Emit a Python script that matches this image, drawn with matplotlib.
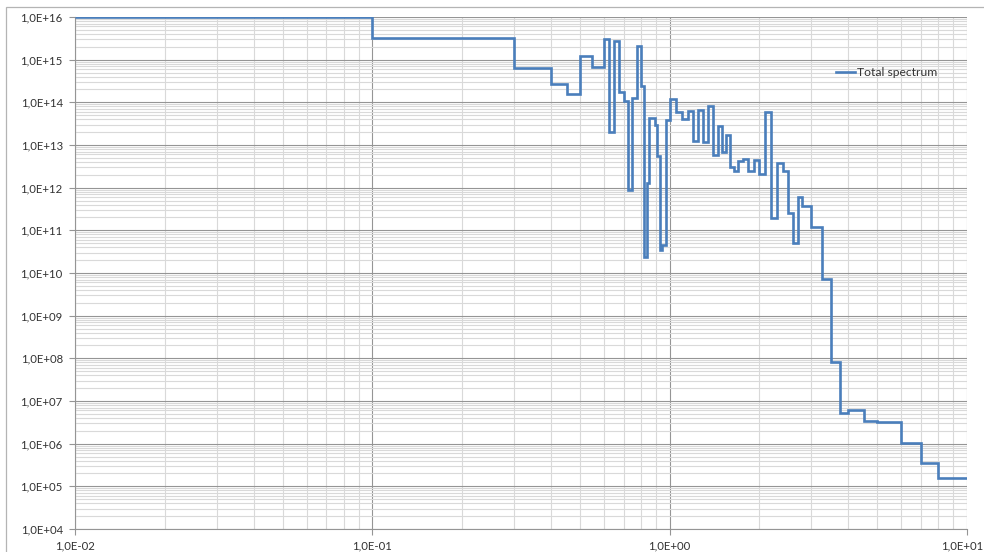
# Total spectrum step plot (log-log), Excel style grid
import numpy as np
import matplotlib.pyplot as plt
import matplotlib.transforms as mtransforms
from matplotlib.ticker import FixedLocator, LogLocator, NullFormatter
from matplotlib.patches import Rectangle

plt.rcParams['font.family'] = ['Lato', 'DejaVu Sans']

# group boundaries [MeV]
edges = [0.01, 0.1, 0.3, 0.4, 0.45, 0.5, 0.55, 0.6, 0.625, 0.65,
         0.675, 0.7, 0.725, 0.75, 0.775, 0.8, 0.82, 0.84, 0.855, 0.89,
         0.91, 0.93, 0.945, 0.97, 1.0, 1.05, 1.1, 1.15, 1.2, 1.25,
         1.3, 1.35, 1.4, 1.45, 1.5, 1.55, 1.6, 1.65, 1.7, 1.77,
         1.84, 1.92, 2.0, 2.1, 2.2, 2.3, 2.4, 2.5, 2.6, 2.7,
         2.8, 3.0, 3.25, 3.5, 3.75, 4.0, 4.5, 5.0, 6.0, 7.0,
         8.0, 10.0]

# value in each group
total = [1.0e16, 3.3e15, 6.3e14, 2.65e14, 1.54e14, 1.24e15, 6.8e14, 3.05e15, 2.05e13,
         2.78e15, 1.72e14, 1.09e14, 8.8e11, 1.28e14, 2.12e15, 2.42e14, 2.41e10, 1.27e12,
         4.23e13, 2.9e13, 5.5e12, 3.4e10, 4.6e10, 3.8e13, 1.17e14, 6.0e13, 4.07e13,
         6.27e13, 1.22e13, 6.6e13, 1.2e13, 8.3e13, 5.8e12, 2.79e13, 7.0e12, 1.72e13,
         3.1e12, 2.5e12, 4.2e12, 4.7e12, 2.5e12, 4.46e12, 2.1e12, 5.8e13, 1.95e11,
         3.8e12, 2.4e12, 2.6e11, 5.1e10, 6.0e11, 3.76e11, 1.2e11, 7.1e9, 8.4e7,
         5.2e6, 6.2e6, 3.46e6, 3.18e6, 1.05e6, 3.59e5, 1.6e5]

x_ticks = [1e-2, 1e-1, 1e0, 1e1]
x_tick_labels = ["1,0E-02", "1,0E-01", "1,0E+00", "1,0E+01"]
y_ticks = [10.0 ** e for e in range(4, 17)]
y_tick_labels = ["1,0E+%02d" % e for e in range(4, 17)]

fig = plt.figure(figsize=(9.84, 5.52), dpi=100)
ax = fig.add_axes([75.3 / 984, 1 - 529 / 552, 891.4 / 984, 512 / 552])

# chart area border
fig.patches.append(Rectangle((6 / 984, -0.1), 1.2, (552 - 7) / 552 + 0.1,
                             transform=fig.transFigure, fill=False,
                             edgecolor='#b4b4b4', linewidth=0.9))

ax.stairs(total, edges, baseline=None, color='#4a7ebb', linewidth=1.9,
          label='Total spectrum', zorder=3)

ax.set_xscale('log')
ax.set_yscale('log')
ax.set_xlim(1e-2, 1e1)
ax.set_ylim(1e4, 1e16)

ax.xaxis.set_major_locator(FixedLocator(x_ticks))
ax.set_xticklabels(x_tick_labels)
ax.yaxis.set_major_locator(FixedLocator(y_ticks))
ax.set_yticklabels(y_tick_labels)
ax.xaxis.set_minor_locator(LogLocator(base=10, subs=np.arange(2, 10), numticks=20))
ax.yaxis.set_minor_locator(LogLocator(base=10, subs=np.arange(2, 10), numticks=40))
ax.xaxis.set_minor_formatter(NullFormatter())
ax.yaxis.set_minor_formatter(NullFormatter())

# grid
ax.grid(True, which='major', color='#959595', linewidth=0.8)
ax.grid(True, which='minor', color='#d9d9d9', linewidth=0.8)
ax.set_axisbelow(True)

ax.tick_params(which='major', direction='out', length=4, width=0.8, color='#959595',
               labelsize=8.2, labelcolor='#333333')
ax.tick_params(axis='x', which='major', pad=4)
ax.tick_params(axis='y', which='major', pad=5)
ax.tick_params(which='minor', length=0)

# last x label sits at the figure edge, nudge it inside
last = ax.get_xticklabels()[-1]
last.set_transform(last.get_transform() + mtransforms.ScaledTranslation(-4 / 100, 0, fig.dpi_scale_trans))

for side in ['left', 'bottom']:
    ax.spines[side].set_color('#959595')
    ax.spines[side].set_linewidth(0.8)
for side in ['top', 'right']:
    ax.spines[side].set_visible(False)

ax.legend(loc='center left', bbox_to_anchor=(0.853, 0.891), frameon=False,
          fontsize=8.7, handlelength=1.6, handletextpad=0.15,
          borderpad=0, borderaxespad=0, labelcolor='#333333')

fig.savefig('out.png', dpi=100)
